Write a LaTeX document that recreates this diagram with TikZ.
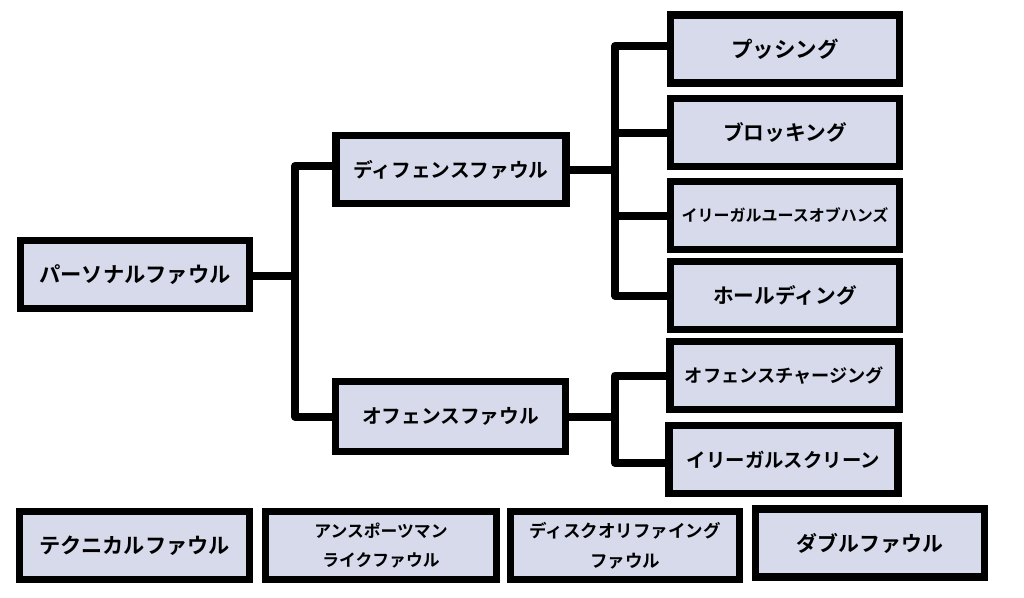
\documentclass[tikz,border=0pt]{standalone}
\usepackage{fontspec}
\usetikzlibrary{backgrounds}
\newfontfamily\jp{Noto Sans CJK JP}[BoldFont={* Bold}]
\definecolor{boxfill}{RGB}{214,218,235}
\tikzset{
  fbox/.style={draw=black, fill=boxfill, line width=7.5pt, inner sep=0pt, outer sep=0pt,
    minimum width=229pt, minimum height=68pt, align=center,
    font=\jp\bfseries\fontsize{19pt}{23pt}\selectfont, text=black},
  conn/.style={draw=black, line width=8pt, line join=round, line cap=round},
  fs/.style={font=\jp\bfseries\fontsize{#1pt}{#1pt}\selectfont}
}
\begin{document}
\begin{tikzpicture}[x=1pt,y=-1pt]
\useasboundingbox (0,0) rectangle (1024,597);
% nodes
\node[fbox, fs=21.3] (pf) at (135,274.5) {パーソナルファウル};
\node[fbox, minimum width=230pt, fs=19.7] (df) at (451,169.5) {ディフェンスファウル};
\node[fbox, minimum width=230pt, minimum height=70pt, fs=19.7] (of) at (450.5,416.5) {オフェンスファウル};
\node[fbox, fs=21.5] (push) at (785,49) {プッシング};
\node[fbox, fs=20.7] (block) at (785,132.5) {ブロッキング};
\node[fbox, fs=16] (hands) at (785,215.5) {イリーガルユースオブハンズ};
\node[fbox, fs=20.7] (hold) at (785,295.5) {ホールディング};
\node[fbox, fs=18.2] (charge) at (784.5,375.5) {オフェンスチャージング};
\node[fbox, fs=19.4] (screen) at (783.5,459.5) {イリーガルスクリーン};
\node[fbox, minimum width=230pt, fs=21.2] (tech) at (134.5,545.5) {テクニカルファウル};
\node[fbox, minimum width=231pt, font=\jp\bfseries\fontsize{16.8pt}{29pt}\selectfont] (unsp) at (381,545.5) {アンスポーツマン\\ライクファウル};
\node[fbox, font=\jp\bfseries\fontsize{17.5pt}{30pt}\selectfont] (disq) at (625,545.5) {ディスクオリファイング\\ファウル};
\node[fbox, fs=20.9] (dbl) at (870,543) {ダブルファウル};
% junctions
\coordinate (j1) at (295,276);
\coordinate (j2) at (615,169.5);
\coordinate (j3) at (615,416.5);
% connectors
\begin{scope}[on background layer]
\draw[conn] (pf.east |- j1) -- (j1);
\draw[conn] (df.west |- 0,166) -| (j1) |- (of.west);
\draw[conn] (df.east) -- (j2);
\draw[conn] (push.west |- 0,46) -| (j2) |- (hold.west);
\draw[conn] (j2 |- block.west) -- (block.west);
\draw[conn] (j2 |- hands.west) -- (hands.west);
\draw[conn] (of.east) -- (j3);
\draw[conn] (charge.west) -| (j3) |- (screen.west |- 0,463);
\end{scope}
\end{tikzpicture}
\end{document}
